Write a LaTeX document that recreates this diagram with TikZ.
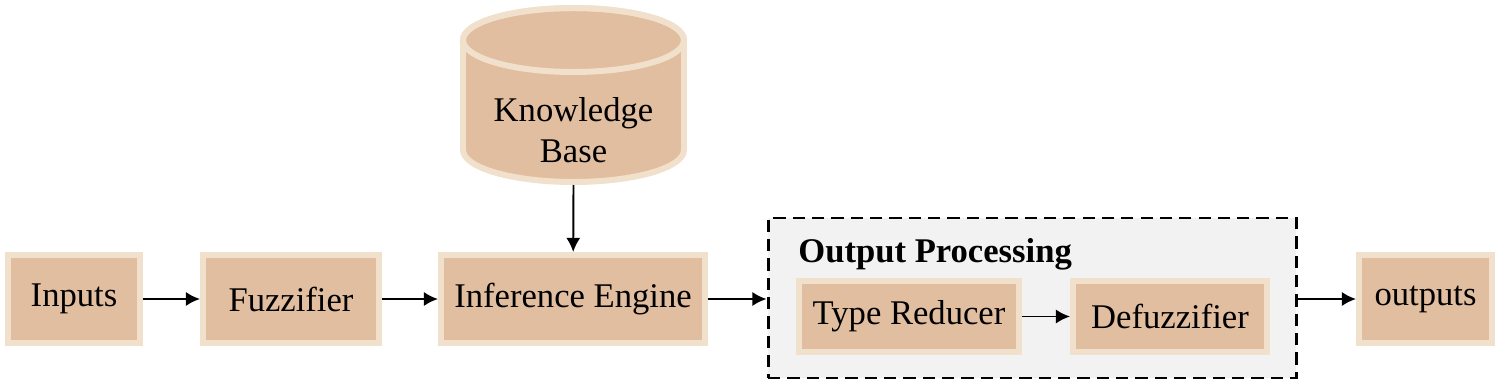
\documentclass[tikz,border=0pt]{standalone}
\usepackage{fontspec}
\setmainfont{Liberation Serif}
\usetikzlibrary{arrows.meta,positioning}
\definecolor{blocktan}{RGB}{226,190,160}
\definecolor{blockrim}{RGB}{241,225,204}
\definecolor{groupgray}{RGB}{242,242,242}

\begin{document}
\begin{tikzpicture}[>={Latex[length=8pt,width=8pt]},
  font=\fontsize{19.7}{23.5}\selectfont,
  block/.style={draw=blockrim,fill=blocktan,line width=3.4pt,minimum height=1.76cm},
  flow/.style={->,line width=1.1pt}]
  \useasboundingbox (0,0) rectangle (30,7.7);
  % output processing group
  \node[draw,fill=groupgray,line width=1.7pt,dash pattern=on 7pt off 4pt,
        minimum width=10.56cm,minimum height=3.2cm] (grp) at (20.64,1.74) {};
  \node[anchor=base west,inner sep=0pt,font=\fontsize{19.7}{23.5}\selectfont\bfseries] (grptitle) at (15.96,2.46) {Output Processing};

  % knowledge base cylinder
  \filldraw[draw=blockrim,fill=blocktan,line width=3.4pt]
    (9.26,6.9) -- (9.26,4.70) arc[start angle=180,end angle=360,x radius=2.21,y radius=0.64]
    -- (13.68,6.9) arc[start angle=0,end angle=180,x radius=2.21,y radius=0.64] -- cycle;
  \draw[draw=blockrim,line width=3.4pt] (11.47,6.9) ellipse[x radius=2.21,y radius=0.64];
  \node[align=center] (kb) at (11.47,5.1) {Knowledge\\Base};
  \coordinate (kbbot) at (11.47,4.0);

  % main chain
  \node[block,minimum width=2.64cm] (in) at (1.48,1.72) {Inputs};
  \node[block,minimum width=3.52cm] (fz) at (5.82,1.72) {Fuzzifier};
  \node[block,minimum width=5.28cm] (ie) at (11.46,1.72) {Inference Engine};
  \node[block,minimum width=4.4cm,minimum height=1.42cm] (tr) at (18.18,1.37) {Type Reducer};
  \node[block,minimum width=3.88cm,minimum height=1.42cm] (df) at (23.4,1.37) {Defuzzifier};
  \node[block,minimum width=2.66cm] (out) at (28.51,1.72) {outputs};

  \draw[flow] (in) -- (fz);
  \draw[flow] (fz) -- (ie);
  \draw[flow] (kbbot) -- (ie);
  \draw[flow] (ie.east) -- (ie.east -| grp.west);
  \draw[flow] (tr) -- (df);
  \draw[flow] (out.west -| grp.east) -- (out.west);
\end{tikzpicture}
\end{document}
